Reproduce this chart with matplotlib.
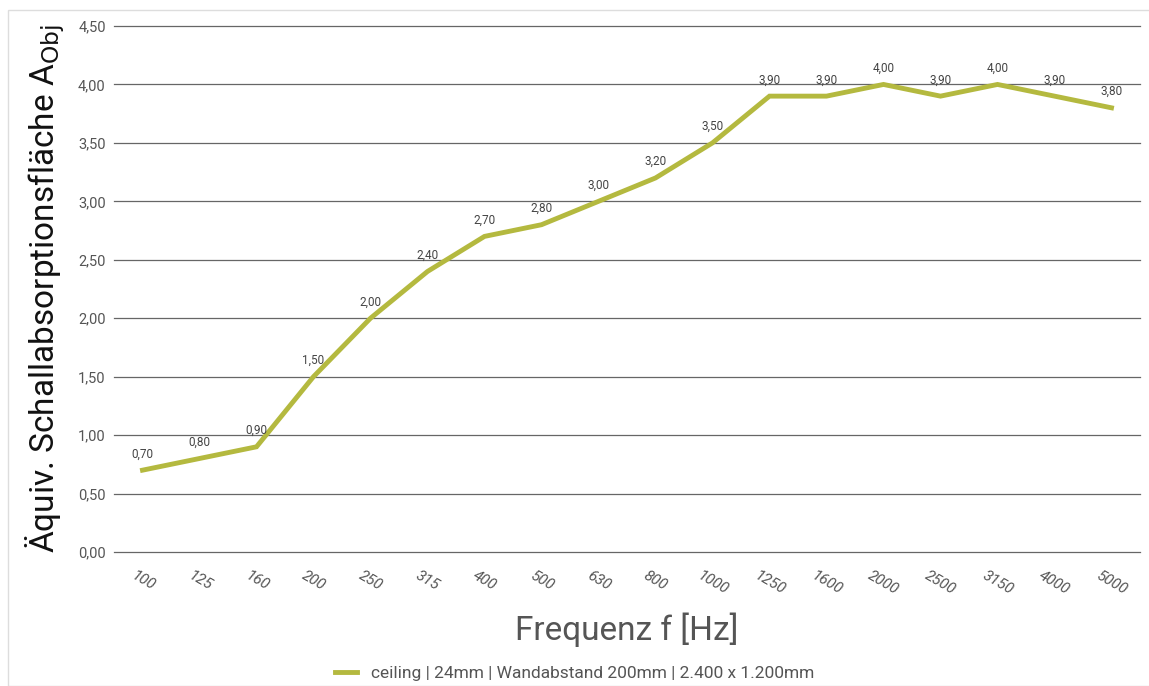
import matplotlib
matplotlib.use("Agg")
import matplotlib.pyplot as plt
from matplotlib.patches import Rectangle

plt.rcParams['font.family'] = ['Roboto', 'DejaVu Sans']

frequencies = ["100", "125", "160", "200", "250", "315", "400", "500", "630", "800",
               "1000", "1250", "1600", "2000", "2500", "3150", "4000", "5000"]
values = [0.70, 0.80, 0.90, 1.50, 2.00, 2.40, 2.70, 2.80, 3.00, 3.20,
          3.50, 3.90, 3.90, 4.00, 3.90, 4.00, 3.90, 3.80]
yticks = [0.0, 0.5, 1.0, 1.5, 2.0, 2.5, 3.0, 3.5, 4.0, 4.5]
series_label = "ceiling | 24mm | Wandabstand 200mm | 2.400 x 1.200mm"

W, H = 1149, 686
fig = plt.figure(figsize=(W/100, H/100), dpi=100)
ax = fig.add_axes([114/W, 1-552/H, (1140-114)/W, (552-26)/H])

x = list(range(len(frequencies)))
line, = ax.plot(x, values, color='#b4b93f', lw=3.5, solid_joinstyle='miter', label=series_label)
for xi, v in zip(x, values):
    ax.annotate(f"{v:.2f}".replace('.', ','), (xi, v), xytext=(0, 7), textcoords='offset points',
                ha='center', va='bottom', fontsize=8.5, color='#444444')

ax.set_xlim(-0.5, len(frequencies) - 0.5)
ax.set_ylim(0, 4.5)
ax.set_yticks(yticks)
ax.set_yticklabels([f"{t:.2f}".replace('.', ',') for t in yticks], fontsize=10.5, color='#555555')
ax.set_xticks(x)
ax.set_xticklabels(frequencies, rotation=-30, ha='center', fontsize=11, color='#555555', style='italic')
ax.tick_params(axis='both', length=0)
ax.tick_params(axis='y', pad=6)
ax.tick_params(axis='x', pad=12)
ax.grid(axis='y', color='#666666', lw=0.9)
for gl in ax.get_ygridlines():
    gl.set_clip_on(False)
ax.set_axisbelow(True)
for s in ax.spines.values():
    s.set_visible(False)

ax.set_xlabel("Frequenz f [Hz]", fontsize=24, color='#555555', labelpad=11)
ax.set_ylabel(r"Äquiv. Schallabsorptionsfläche A$_{\mathrm{Obj}}$", fontsize=24, color='#111111', labelpad=8)

fig.legend(handles=[line], loc='center', bbox_to_anchor=(0.5, 1-673/H), frameon=False,
           fontsize=12.5, labelcolor='#555555', handlelength=1.3)

fig.patches.append(Rectangle((8/W, 0), 1.2, 1-10/H, transform=fig.transFigure,
                             fill=False, edgecolor='#dddddd', lw=1))

fig.savefig("out.png", dpi=100)
